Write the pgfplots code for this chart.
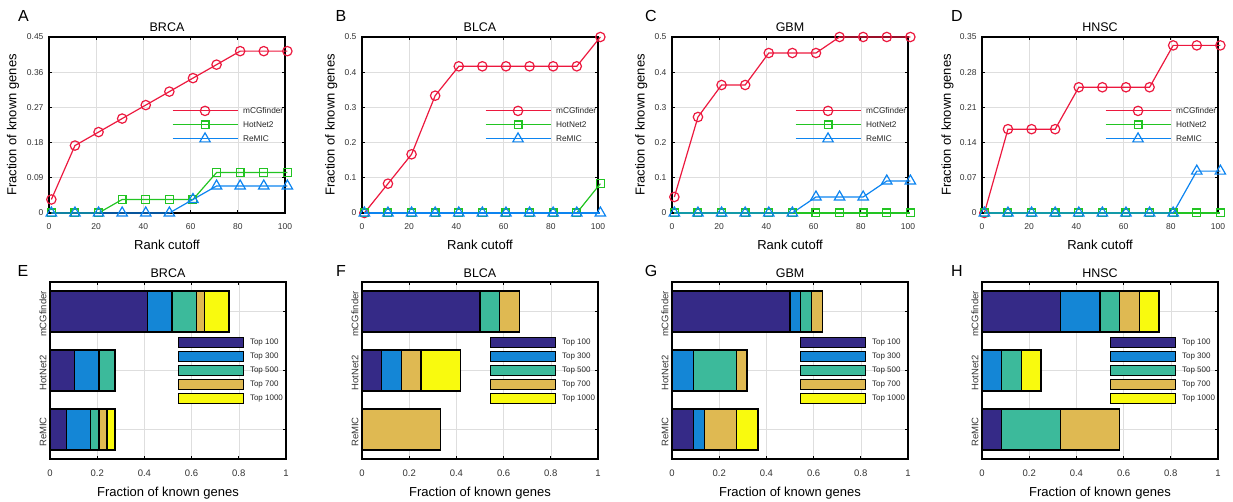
\documentclass[border=0pt]{standalone}
\usepackage{fontspec}
\setmainfont{Liberation Sans}
\usepackage{pgfplots}
\usepackage{pgfplotstable}
\pgfplotsset{compat=1.18}

\definecolor{cMCG}{RGB}{236,24,62}
\definecolor{cHot}{RGB}{34,196,34}
\definecolor{cRe}{RGB}{12,132,240}
\definecolor{p1}{RGB}{53,42,135}
\definecolor{p2}{RGB}{20,134,214}
\definecolor{p3}{RGB}{60,186,155}
\definecolor{p4}{RGB}{223,185,82}
\definecolor{p5}{RGB}{249,250,14}

% rank cutoff curves: x, mCGfinder, HotNet2, ReMIC
\pgfplotstableread{
x   m      h      r
1   0.0345 0      0
11  0.1724 0      0
21  0.2069 0      0
31  0.2414 0.0345 0
41  0.2759 0.0345 0
51  0.3103 0.0345 0
61  0.3448 0.0345 0.0345
71  0.3793 0.1034 0.0690
81  0.4138 0.1034 0.0690
91  0.4138 0.1034 0.0690
101 0.4138 0.1034 0.0690
}\brca
\pgfplotstableread{
x   m      h      r
1   0      0      0
11  0.0833 0      0
21  0.1667 0      0
31  0.3333 0      0
41  0.4167 0      0
51  0.4167 0      0
61  0.4167 0      0
71  0.4167 0      0
81  0.4167 0      0
91  0.4167 0      0
101 0.5    0.0833 0
}\blca
\pgfplotstableread{
x   m      h      r
1   0.0455 0      0
11  0.2727 0      0
21  0.3636 0      0
31  0.3636 0      0
41  0.4545 0      0
51  0.4545 0      0
61  0.4545 0      0.0455
71  0.5    0      0.0455
81  0.5    0      0.0455
91  0.5    0      0.0909
101 0.5    0      0.0909
}\gbm
\pgfplotstableread{
x   m      h      r
1   0      0      0
11  0.1667 0      0
21  0.1667 0      0
31  0.1667 0      0
41  0.25   0      0
51  0.25   0      0
61  0.25   0      0
71  0.25   0      0
81  0.3333 0      0
91  0.3333 0      0.0833
101 0.3333 0      0.0833
}\hnsc

\pgfplotsset{
  every axis title shift=0pt,
  base/.style={
    scale only axis, width=236pt, clip=false,
    axis line style={line width=1.5pt, black},
    grid=major, major grid style={black!13, line width=0.6pt},
    tick align=inside, major tick length=3pt,
    tick style={black, line width=0.8pt},
    ticklabel style={text=black!80},
    xticklabel style={yshift=-7.5pt},
    title style={font=\fontsize{12.5}{14}\selectfont, at={(axis description cs:0.5,1)}, anchor=base},
    label style={font=\fontsize{13}{15}\selectfont},
    xlabel style={at={(axis description cs:0.5,0)}, anchor=base},
    legend cell align=left,
  },
  toprow/.style={
    base, height=176pt, xmin=0, xmax=100, ymin=0,
    xtick={0,20,40,60,80,100}, xticklabels={0,20,40,60,80,100},
    tick label style={font=\fontsize{8.5}{10}\selectfont},
    yticklabel style={xshift=-2pt},
    title style={yshift=5pt},
    xlabel={Rank cutoff}, xlabel style={yshift=-37pt},
    ylabel={Fraction of known genes},
    ylabel style={anchor=center},
    legend style={draw=none, fill=none, at={(rel axis cs:0.52,0.621)}, anchor=north west,
      inner sep=0pt, column sep=5pt, row sep=0pt,
      nodes={inner sep=0pt, minimum height=14pt, font=\fontsize{8.3}{9}\selectfont, text=black!85}},
    legend image code/.code={\draw[mark repeat=2,mark phase=2,##1] plot coordinates {(0pt,0pt) (32.5pt,0pt) (65pt,0pt)};},
  },
  botrow/.style={
    base, height=177pt, xmin=0, xmax=1, ymin=0.5, ymax=3.5,
    xbar stacked, bar width=0.7,
    xtick={0,0.2,0.4,0.6,0.8,1}, xticklabels={0,0.2,0.4,0.6,0.8,1},
    ytick={1,2,3}, yticklabels={ReMIC,HotNet2,mCGfinder},
    yticklabel style={rotate=90, anchor=south, xshift=-2.5pt},
    tick label style={font=\fontsize{9.5}{11}\selectfont},
    title style={yshift=4pt},
    xlabel={Fraction of known genes}, xlabel style={yshift=-38pt},
    legend style={draw=none, fill=none, at={(rel axis cs:0.54,0.70)}, anchor=north west,
      inner sep=0pt, column sep=6pt, row sep=0pt,
      nodes={inner sep=0pt, minimum height=14pt, font=\fontsize{8}{9}\selectfont, text=black!85}},
    legend image code/.code={\draw[##1] (0pt,-5pt) rectangle (65pt,5pt);},
  },
  mcg/.style={color=cMCG, line width=1.2pt, mark=o, mark size=4.7pt},
  hot/.style={color=cHot, line width=1.2pt, mark=square, mark size=3.9pt},
  rem/.style={color=cRe, line width=1.2pt, mark=triangle, mark size=6pt},
  b1/.style={fill=p1, draw=black, line width=1.4pt},
  b2/.style={fill=p2, draw=black, line width=1.4pt},
  b3/.style={fill=p3, draw=black, line width=1.4pt},
  b4/.style={fill=p4, draw=black, line width=1.4pt},
  b5/.style={fill=p5, draw=black, line width=1.4pt},
}

\begin{document}
\begin{tikzpicture}
\path[use as bounding box] (0pt,0pt) rectangle (1233pt,502pt);

% ---------- top row ----------
\begin{axis}[toprow, at={(49pt,465pt)}, anchor=north west, title={BRCA},
  ymax=0.45, ytick={0,0.09,0.18,0.27,0.36,0.45}, yticklabels={0,0.09,0.18,0.27,0.36,0.45},
  ylabel style={at={(axis description cs:-0.152,0.5)}}]
\addplot[mcg] table[x=x,y=m] {\brca};
\addplot[hot] table[x=x,y=h] {\brca};
\addplot[rem] table[x=x,y=r] {\brca};
\legend{mCGfinder,HotNet2,ReMIC}
\end{axis}

\begin{axis}[toprow, at={(362pt,465pt)}, anchor=north west, title={BLCA},
  ymax=0.5, ytick={0,0.1,0.2,0.3,0.4,0.5}, yticklabels={0,0.1,0.2,0.3,0.4,0.5},
  ylabel style={at={(axis description cs:-0.13,0.5)}}]
\addplot[mcg] table[x=x,y=m] {\blca};
\addplot[hot] table[x=x,y=h] {\blca};
\addplot[rem] table[x=x,y=r] {\blca};
\legend{mCGfinder,HotNet2,ReMIC}
\end{axis}

\begin{axis}[toprow, at={(672pt,465pt)}, anchor=north west, title={GBM},
  ymax=0.5, ytick={0,0.1,0.2,0.3,0.4,0.5}, yticklabels={0,0.1,0.2,0.3,0.4,0.5},
  ylabel style={at={(axis description cs:-0.13,0.5)}}]
\addplot[mcg] table[x=x,y=m] {\gbm};
\addplot[hot] table[x=x,y=h] {\gbm};
\addplot[rem] table[x=x,y=r] {\gbm};
\legend{mCGfinder,HotNet2,ReMIC}
\end{axis}

\begin{axis}[toprow, at={(982pt,465pt)}, anchor=north west, title={HNSC},
  ymax=0.35, ytick={0,0.07,0.14,0.21,0.28,0.35}, yticklabels={0,0.07,0.14,0.21,0.28,0.35},
  ylabel style={at={(axis description cs:-0.146,0.5)}}]
\addplot[mcg] table[x=x,y=m] {\hnsc};
\addplot[hot] table[x=x,y=h] {\hnsc};
\addplot[rem] table[x=x,y=r] {\hnsc};
\legend{mCGfinder,HotNet2,ReMIC}
\end{axis}

% ---------- bottom row ----------
\begin{axis}[botrow, at={(50pt,220pt)}, anchor=north west, title={BRCA}]
\addplot[b1] coordinates {(0.4138,3) (0.1034,2) (0.0690,1)};
\addplot[b2] coordinates {(0.1034,3) (0.1034,2) (0.1034,1)};
\addplot[b3] coordinates {(0.1034,3) (0.0690,2) (0.0345,1)};
\addplot[b4] coordinates {(0.0345,3) (0,2) (0.0345,1)};
\addplot[b5] coordinates {(0.1034,3) (0,2) (0.0345,1)};
\legend{Top 100,Top 300,Top 500,Top 700,Top 1000}
\end{axis}

\begin{axis}[botrow, at={(362pt,220pt)}, anchor=north west, title={BLCA}]
\addplot[b1] coordinates {(0.5,3) (0.0833,2) (0,1)};
\addplot[b2] coordinates {(0,3) (0.0833,2) (0,1)};
\addplot[b3] coordinates {(0.0833,3) (0,2) (0,1)};
\addplot[b4] coordinates {(0.0833,3) (0.0833,2) (0.3333,1)};
\addplot[b5] coordinates {(0,3) (0.1667,2) (0,1)};
\legend{Top 100,Top 300,Top 500,Top 700,Top 1000}
\end{axis}

\begin{axis}[botrow, at={(672pt,220pt)}, anchor=north west, title={GBM}]
\addplot[b1] coordinates {(0.5,3) (0,2) (0.0909,1)};
\addplot[b2] coordinates {(0.0455,3) (0.0909,2) (0.0455,1)};
\addplot[b3] coordinates {(0.0455,3) (0.1818,2) (0,1)};
\addplot[b4] coordinates {(0.0455,3) (0.0455,2) (0.1364,1)};
\addplot[b5] coordinates {(0,3) (0,2) (0.0909,1)};
\legend{Top 100,Top 300,Top 500,Top 700,Top 1000}
\end{axis}

\begin{axis}[botrow, at={(982pt,220pt)}, anchor=north west, title={HNSC}]
\addplot[b1] coordinates {(0.3333,3) (0,2) (0.0833,1)};
\addplot[b2] coordinates {(0.1667,3) (0.0833,2) (0,1)};
\addplot[b3] coordinates {(0.0833,3) (0.0833,2) (0.25,1)};
\addplot[b4] coordinates {(0.0833,3) (0,2) (0.25,1)};
\addplot[b5] coordinates {(0.0833,3) (0.0833,2) (0,1)};
\legend{Top 100,Top 300,Top 500,Top 700,Top 1000}
\end{axis}

% panel letters
\begin{scope}[every node/.style={font=\fontsize{16}{18}\selectfont}]
\node at (23.5pt,486pt) {A};
\node at (341pt,486pt) {B};
\node at (651pt,486pt) {C};
\node at (957pt,486pt) {D};
\node at (23pt,231pt) {E};
\node at (341pt,231pt) {F};
\node at (651pt,231pt) {G};
\node at (957pt,231pt) {H};
\end{scope}
\end{tikzpicture}
\end{document}
